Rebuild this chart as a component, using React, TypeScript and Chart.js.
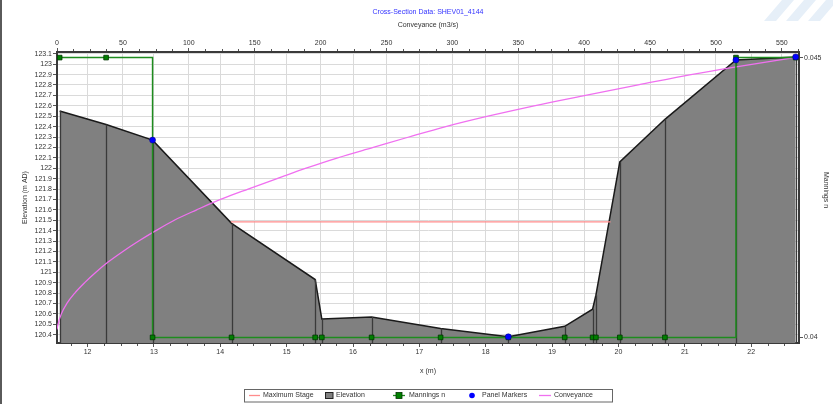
import React, { useEffect, useRef } from "react";
import { Chart, registerables } from "chart.js";

Chart.register(...registerables);

// ---- Data ----
const stationX = [11.58, 12.28, 12.98, 14.17, 15.43, 15.53, 16.28, 17.32, 18.34, 19.19, 19.61, 19.66, 20.02, 20.7, 21.77, 22.67];
const elevation = [122.55, 122.42, 122.27, 121.47, 120.93, 120.55, 120.57, 120.46, 120.38, 120.48, 120.645, 120.78, 122.06, 122.47, 123.04, 123.07];
const manningsN = [0.045, 0.045, 0.04, 0.04, 0.04, 0.04, 0.04, 0.04, 0.04, 0.04, 0.04, 0.04, 0.04, 0.04, 0.045, 0.045];

const panelX = [12.98, 18.34, 21.77, 22.67];
const panelElev = [122.27, 120.38, 123.04, 123.07];

const stageX = [14.16, 19.88];
const stageElev = [121.485, 121.485];

const conveyance = [0, 0.8, 3.3, 7.5, 13.5, 21, 29.5, 39, 50, 62, 75, 89, 106, 124, 145, 167, 189, 213, 240, 267, 295, 327, 362, 401, 441, 481, 513, 561];
const convElev = [120.45, 120.5, 120.6, 120.7, 120.8, 120.9, 121.0, 121.1, 121.2, 121.3, 121.4, 121.5, 121.6, 121.7, 121.8, 121.9, 122.0, 122.1, 122.2, 122.3, 122.4, 122.5, 122.6, 122.7, 122.8, 122.9, 122.97, 123.065];

const xTicks = [12, 13, 14, 15, 16, 17, 18, 19, 20, 21, 22];
const convTicks = [0, 50, 100, 150, 200, 250, 300, 350, 400, 450, 500, 550];
const elevTicks = [120.4, 120.5, 120.6, 120.7, 120.8, 120.9, 121, 121.1, 121.2, 121.3, 121.4, 121.5, 121.6, 121.7, 121.8, 121.9, 122, 122.1, 122.2, 122.3, 122.4, 122.5, 122.6, 122.7, 122.8, 122.9, 123, 123.1];
const manningsTicks = [0.04, 0.045];

const FONT = '"Liberation Sans", Arial, sans-serif';
const W = 833;
const H = 404;

const setTicks = (arr: number[]) => (scale: any) => {
  scale.ticks = arr.map((v) => ({ value: v }));
};

const tickFont = { size: 7, family: FONT };

const overlayPlugin = {
  id: "overlay",
  afterDatasetDraw(chart: any, args: any) {
    if (args.index !== 0) return;
    const ctx = chart.ctx;
    const xs = chart.scales.x;
    const ys = chart.scales.y;
    const bottom = chart.chartArea.bottom;
    ctx.save();
    ctx.strokeStyle = "#3a3a3a";
    ctx.lineWidth = 1.3;
    for (let i = 0; i < stationX.length; i++) {
      const px = Math.round(xs.getPixelForValue(stationX[i])) + 0.5;
      const py = ys.getPixelForValue(elevation[i]);
      ctx.beginPath();
      ctx.moveTo(px, py);
      ctx.lineTo(px, bottom);
      ctx.stroke();
    }
    ctx.restore();
  },
  afterDraw(chart: any) {
    const ctx = chart.ctx;
    const area = chart.chartArea;
    const cx = (area.left + area.right) / 2;
    ctx.save();

    // minor ticks
    ctx.strokeStyle = "#555";
    ctx.lineWidth = 1;
    const xs = chart.scales.x;
    const xt = chart.scales.xTop;
    xTicks.forEach((m) => {
      [-0.25, 0.25, 0.5, 0.75].forEach((d) => {
        const v = m + d;
        if (v <= xs.min || v >= xs.max) return;
        const p = Math.round(xs.getPixelForValue(v)) + 0.5;
        ctx.beginPath();
        ctx.moveTo(p, area.bottom + 1);
        ctx.lineTo(p, area.bottom + 3);
        ctx.stroke();
      });
    });
    convTicks.forEach((m) => {
      [12.5, 25, 37.5].forEach((d) => {
        const v = m + d;
        if (v >= xt.max) return;
        const p = Math.round(xt.getPixelForValue(v)) + 0.5;
        ctx.beginPath();
        ctx.moveTo(p, area.top - 1);
        ctx.lineTo(p, area.top - 3);
        ctx.stroke();
      });
    });

    // left frame line
    ctx.fillStyle = "#5a5a5a";
    ctx.fillRect(0, 0, 2, H);
    // decoration top-right
    ctx.fillStyle = "#e6eff8";
    const stripes = [764, 786, 808];
    stripes.forEach((s) => {
      ctx.beginPath();
      ctx.moveTo(s, 21);
      ctx.lineTo(s + 12, 21);
      ctx.lineTo(s + 30, 0);
      ctx.lineTo(s + 18, 0);
      ctx.closePath();
      ctx.fill();
    });

    ctx.textAlign = "center";
    ctx.textBaseline = "middle";
    ctx.font = `7px ${FONT}`;
    ctx.fillStyle = "#3333ff";
    ctx.fillText("Cross-Section Data: SHEV01_4144", cx, 12);
    ctx.fillStyle = "#333";
    ctx.fillText("Conveyance (m3/s)", cx, 25);
    ctx.fillText("x (m)", cx, 371);

    ctx.save();
    ctx.translate(25, (area.top + area.bottom) / 2);
    ctx.rotate(-Math.PI / 2);
    ctx.fillText("Elevation (m AD)", 0, 0);
    ctx.restore();

    ctx.save();
    ctx.translate(826, 190);
    ctx.rotate(Math.PI / 2);
    ctx.fillText("Mannings n", 0, 0);
    ctx.restore();

    // legend
    const ly = 395.5;
    ctx.fillStyle = "#fff";
    ctx.fillRect(244, 389, 369, 13);
    ctx.strokeStyle = "#666";
    ctx.lineWidth = 1;
    ctx.strokeRect(244.5, 389.5, 368, 12.5);
    ctx.textAlign = "left";
    ctx.fillStyle = "#333";
    // Maximum Stage
    ctx.strokeStyle = "#ff8c8c";
    ctx.lineWidth = 1.3;
    ctx.beginPath();
    ctx.moveTo(249, ly);
    ctx.lineTo(260, ly);
    ctx.stroke();
    ctx.fillText("Maximum Stage", 263, ly);
    // Elevation
    ctx.fillStyle = "#808080";
    ctx.fillRect(325, ly - 3, 8, 6);
    ctx.strokeStyle = "#222";
    ctx.lineWidth = 1;
    ctx.strokeRect(325.5, ly - 3, 7.5, 6);
    ctx.fillStyle = "#333";
    ctx.fillText("Elevation", 336, ly);
    // Mannings n
    ctx.strokeStyle = "#1e8c1e";
    ctx.lineWidth = 1.3;
    ctx.beginPath();
    ctx.moveTo(393, ly);
    ctx.lineTo(405, ly);
    ctx.stroke();
    ctx.fillStyle = "#008000";
    ctx.fillRect(396, ly - 3, 6, 6);
    ctx.strokeStyle = "#003300";
    ctx.lineWidth = 0.8;
    ctx.strokeRect(396, ly - 3, 6, 6);
    ctx.fillStyle = "#333";
    ctx.fillText("Mannings n", 409, ly);
    // Panel Markers
    ctx.fillStyle = "#0000ff";
    ctx.beginPath();
    ctx.arc(472, ly, 2.8, 0, Math.PI * 2);
    ctx.fill();
    ctx.fillStyle = "#333";
    ctx.fillText("Panel Markers", 482, ly);
    // Conveyance
    ctx.strokeStyle = "#f070f0";
    ctx.lineWidth = 1.3;
    ctx.beginPath();
    ctx.moveTo(539, ly);
    ctx.lineTo(551, ly);
    ctx.stroke();
    ctx.fillText("Conveyance", 554, ly);
    ctx.restore();
  },
};

export default function App() {
  const ref = useRef<HTMLCanvasElement | null>(null);

  useEffect(() => {
    if (!ref.current) return;
    const chart = new Chart(ref.current, {
      type: "line",
      data: {
        datasets: [
          {
            label: "Elevation",
            data: stationX.map((x, i) => ({ x, y: elevation[i] })),
            xAxisID: "x",
            yAxisID: "y",
            fill: "start",
            backgroundColor: "#808080",
            borderColor: "#1a1a1a",
            borderWidth: 1.5,
            pointRadius: 0,
            order: 5,
          },
          {
            label: "Maximum Stage",
            data: stageX.map((x, i) => ({ x, y: stageElev[i] })),
            xAxisID: "x",
            yAxisID: "y",
            borderColor: "#ff8c8c",
            borderWidth: 1.3,
            pointRadius: 0,
            fill: false,
            order: 4,
          },
          {
            label: "Conveyance",
            data: conveyance.map((c, i) => ({ x: c, y: convElev[i] })),
            xAxisID: "xTop",
            yAxisID: "y",
            borderColor: "#f070f0",
            borderWidth: 1.3,
            pointRadius: 0,
            fill: false,
            cubicInterpolationMode: "monotone",
            order: 3,
          },
          {
            label: "Mannings n",
            data: stationX.map((x, i) => ({ x, y: manningsN[i] })),
            xAxisID: "x",
            yAxisID: "yR",
            stepped: true,
            borderColor: "#1e8c1e",
            borderWidth: 1.5,
            pointStyle: "rect",
            pointRadius: 3.3,
            pointBackgroundColor: "#008000",
            pointBorderColor: "#003300",
            pointBorderWidth: 0.8,
            fill: false,
            order: 2,
          },
          {
            label: "Panel Markers",
            data: panelX.map((x, i) => ({ x, y: panelElev[i] })),
            xAxisID: "x",
            yAxisID: "y",
            showLine: false,
            pointRadius: 3,
            pointBackgroundColor: "#0000ff",
            pointBorderColor: "#000080",
            pointBorderWidth: 0.5,
            fill: false,
            order: 1,
          },
        ],
      },
      options: {
        responsive: false,
        animation: false,
        devicePixelRatio: 1,
        layout: { padding: 0 },
        plugins: {
          legend: { display: false },
          title: { display: false },
          tooltip: { enabled: false },
        },
        scales: {
          x: {
            type: "linear",
            position: "bottom",
            min: 11.54,
            max: 22.72,
            afterBuildTicks: setTicks(xTicks),
            afterFit: (s: any) => {
              s.height = 61;
            },
            grid: { color: "#dadada", lineWidth: 1, tickLength: 4, tickColor: "#555" },
            border: { color: "#3a3a3a", width: 2 },
            ticks: { font: tickFont, color: "#333", padding: 1, maxRotation: 0, autoSkip: false },
          },
          xTop: {
            type: "linear",
            position: "top",
            min: 0,
            max: 563,
            afterBuildTicks: setTicks(convTicks),
            afterFit: (s: any) => {
              s.height = 52;
            },
            grid: { color: "#dadada", lineWidth: 1, tickLength: 4, tickColor: "#555" },
            border: { color: "#3a3a3a", width: 2 },
            ticks: { font: tickFont, color: "#333", padding: 1, maxRotation: 0, autoSkip: false },
          },
          y: {
            type: "linear",
            position: "left",
            min: 120.32,
            max: 123.117,
            afterBuildTicks: setTicks(elevTicks),
            afterFit: (s: any) => {
              s.width = 57;
            },
            grid: { color: "#dadada", lineWidth: 1, tickLength: 4, tickColor: "#555" },
            border: { color: "#3a3a3a", width: 2 },
            ticks: {
              font: tickFont,
              color: "#333",
              padding: 1,
              autoSkip: false,
              callback: (v: any) => String(Math.round(Number(v) * 10) / 10),
            },
          },
          yR: {
            type: "linear",
            position: "right",
            min: 0.0399,
            max: 0.0451,
            afterBuildTicks: setTicks(manningsTicks),
            afterFit: (s: any) => {
              s.width = 34;
            },
            grid: { drawOnChartArea: false, tickLength: 4, tickColor: "#555" },
            border: { color: "#3a3a3a", width: 2 },
            ticks: {
              font: tickFont,
              color: "#333",
              padding: 1,
              autoSkip: false,
              callback: (v: any) => String(Math.round(Number(v) * 1000) / 1000),
            },
          },
        },
      },
      plugins: [overlayPlugin],
    } as any);
    return () => chart.destroy();
  }, []);

  return (
    <div style={{ position: "fixed", left: 0, top: 0, width: W, height: H, background: "#fff" }}>
      <canvas ref={ref} width={W} height={H} style={{ display: "block", width: W, height: H }} />
    </div>
  );
}
